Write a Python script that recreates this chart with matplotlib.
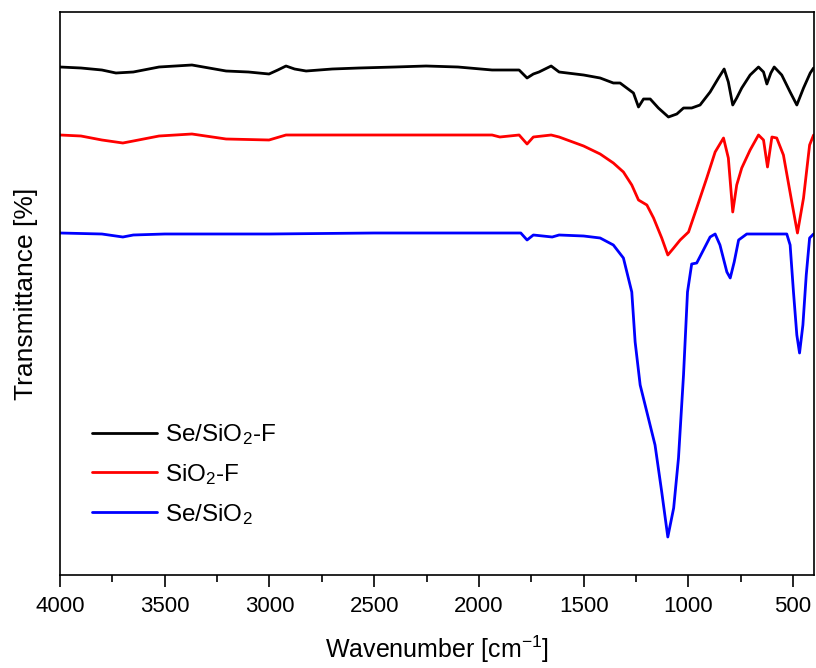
import matplotlib
matplotlib.use("Agg")
import matplotlib.pyplot as plt
import numpy as np

plt.rcParams['font.family'] = ['Liberation Sans', 'DejaVu Sans']
plt.rcParams['mathtext.fontset'] = 'custom'
plt.rcParams['mathtext.rm'] = 'Liberation Sans'
plt.rcParams['mathtext.it'] = 'Liberation Sans:italic'
plt.rcParams['mathtext.bf'] = 'Liberation Sans:bold'

# Wavenumber (cm^-1) and transmittance (arbitrary units, offset-stacked spectra)
wn_black = [4000, 3900, 3800, 3733, 3650, 3527, 3370, 3207, 3100, 3002, 2960, 2921, 2880, 2825, 2700,
            2572, 2400, 2252, 2100, 1937, 1808, 1770, 1740, 1713, 1655, 1617, 1500, 1421, 1358, 1326,
            1262, 1238, 1214, 1182, 1143, 1095, 1055, 1023, 984, 944, 896, 856, 829, 809, 788,
            769, 745, 705, 665, 641, 625, 606, 590, 554, 514, 482, 450, 418, 402]
t_black = [508, 507, 505, 502, 503, 508, 510, 504, 503, 501, 505, 509, 506, 504, 506,
           507, 508, 509, 508, 505, 505, 497, 501, 503, 509, 503, 500, 497, 492, 492,
           482, 468, 476, 476, 467, 458, 461, 467, 467, 470, 483, 497, 506, 493, 470,
           477, 487, 500, 508, 503, 491, 502, 508, 500, 483, 470, 487, 502, 507]

wn_red = [4000, 3900, 3800, 3700, 3650, 3527, 3370, 3207, 3002, 2921, 2600, 2252, 1937, 1900, 1808,
          1770, 1740, 1655, 1617, 1500, 1421, 1358, 1310, 1270, 1238, 1198, 1166, 1127, 1098, 1070,
          1039, 999, 960, 912, 872, 832, 809, 788, 769, 745, 705, 665, 641, 622, 601,
          578, 546, 506, 479, 450, 421, 402]
t_red = [440, 439, 435, 432, 434, 439, 441, 436, 435, 440, 440, 440, 440, 438, 440,
         431, 438, 440, 438, 429, 421, 412, 403, 390, 375, 370, 357, 337, 320, 327,
         335, 343, 367, 397, 423, 437, 417, 363, 390, 407, 425, 440, 435, 408, 438,
         437, 420, 373, 342, 377, 430, 440]

wn_blue = [4000, 3800, 3700, 3650, 3500, 3000, 2500, 2000, 1800, 1770, 1740, 1650, 1617, 1500, 1421,
           1358, 1310, 1270, 1254, 1230, 1198, 1159, 1127, 1098, 1070, 1047, 1023, 1004, 984, 960,
           928, 896, 872, 849, 816, 800, 781, 760, 721, 530, 514, 498, 482, 469, 453,
           437, 421, 402]
t_blue = [342, 341, 338, 340, 341, 341, 342, 342, 342, 335, 340, 338, 340, 339, 337,
          330, 317, 283, 233, 190, 163, 130, 83, 38, 67, 117, 200, 283, 311, 312,
          325, 338, 341, 330, 303, 297, 313, 335, 341, 341, 330, 283, 240, 222, 250,
          300, 337, 341]

labels = ['Se/SiO$_2$-F', 'SiO$_2$-F', 'Se/SiO$_2$']
colors = ['#000000', '#ff0000', '#0000ff']

fig = plt.figure(figsize=(8.16, 6.68), dpi=100)
ax = fig.add_axes([60 / 816, 1 - 575 / 668, (814 - 60) / 816, (575 - 12) / 668])

for wn, t, lab, c in zip([wn_black, wn_red, wn_blue], [t_black, t_red, t_blue], labels, colors):
    ax.plot(wn, t, color=c, lw=2.0, label=lab, solid_joinstyle='round', solid_capstyle='round')

ax.set_xlim(4000, 400)
ax.set_ylim(0, 563)
ax.set_xticks([4000, 3500, 3000, 2500, 2000, 1500, 1000, 500])
ax.set_xticks(np.arange(3750, 400, -500), minor=True)
ax.set_yticks([])
ax.tick_params(axis='x', which='major', direction='out', length=8.6, width=1.2, labelsize=16, pad=6.5)
ax.tick_params(axis='x', which='minor', direction='out', length=5, width=1.2)
for s in ax.spines.values():
    s.set_linewidth(1.2)

ax.set_xlabel('Wavenumber [cm$^{-1}$]', fontsize=18, labelpad=12)
ax.set_ylabel('Transmittance [%]', fontsize=19, labelpad=16)

leg = ax.legend(loc='upper left', bbox_to_anchor=(0.029, 0.289), frameon=False, fontsize=17.5,
                handlelength=2.7, handletextpad=0.3, labelspacing=0.62, borderaxespad=0)

fig.savefig('out.png', dpi=100)
